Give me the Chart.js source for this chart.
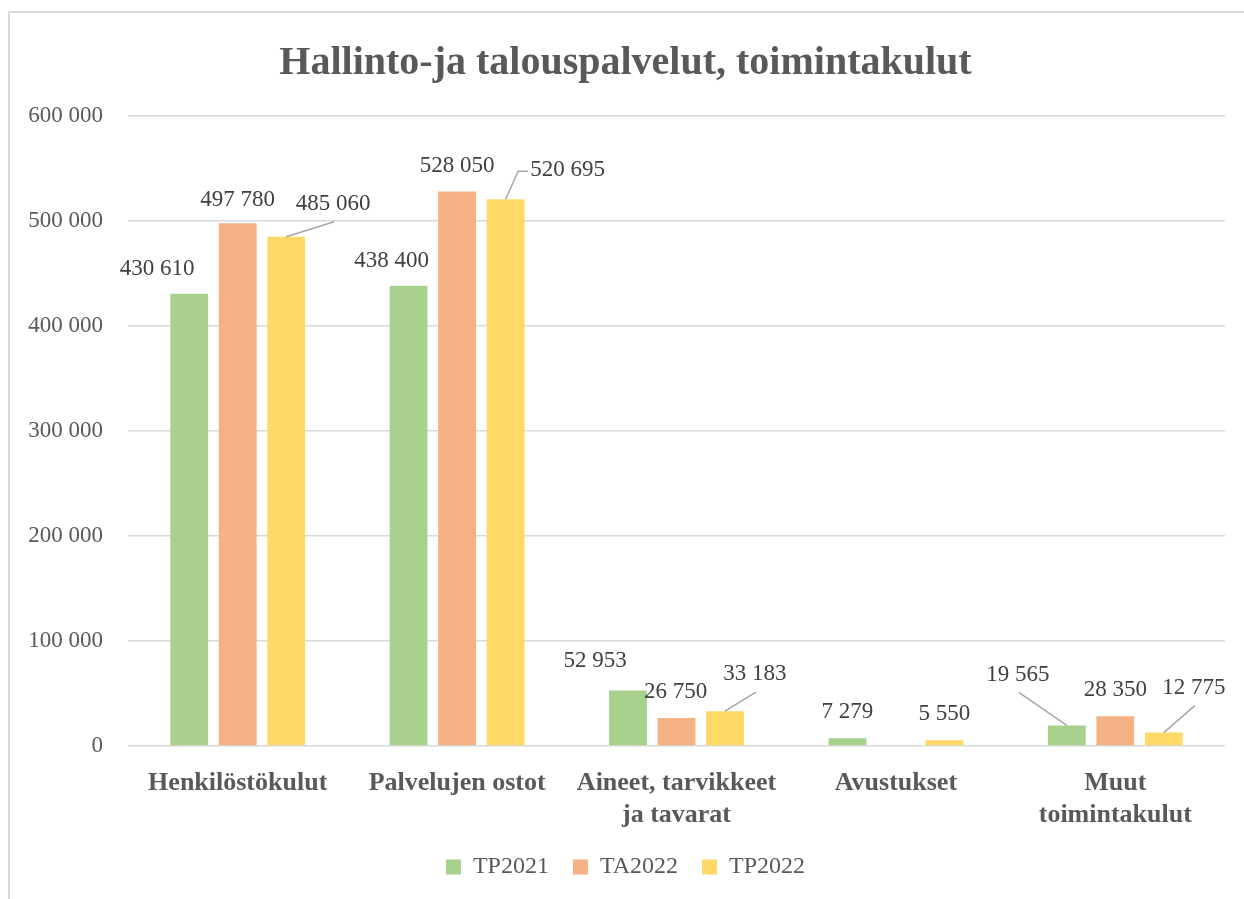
<!DOCTYPE html>
<html>
<head>
<meta charset="utf-8">
<script src="https://cdn.jsdelivr.net/npm/chart.js@4.4.1/dist/chart.umd.min.js"></script>
<style>
  html, body { margin: 0; background: #fff; overflow: hidden; }
  #frame { position: absolute; left: 8px; top: 11px; width: 1300px; height: 1000px;
           border-top: 2px solid #d9d9d9; border-left: 2px solid #d9d9d9; }
  canvas { position: absolute; left: 0; top: 0; }
</style>
</head>
<body>
<div id="frame"></div>
<canvas id="chart" width="1244" height="899"></canvas>
<script>
// -------------------------
// DATA
// -------------------------
const categories = [
  ["Henkilöstökulut"],
  ["Palvelujen ostot"],
  ["Aineet, tarvikkeet", "ja tavarat"],
  ["Avustukset"],
  ["Muut", "toimintakulut"]
];
const seriesNames = ["TP2021", "TA2022", "TP2022"];
const tp2021 = [430610, 438400, 52953, 7279, 19565];
const ta2022 = [497780, 528050, 26750, null, 28350];
const tp2022 = [485060, 520695, 33183, 5550, 12775];
const yTicks = [0, 100000, 200000, 300000, 400000, 500000, 600000];

const colors = ["#A9D18E", "#F4B183", "#FFD966"];
const FONT = "'Liberation Serif', serif";

// label placement relative to bar top: [dx, dy, leader]
const labelOffsets = [
  [[-32, -25], [-17, -25], [-33, -29], [0, -26], [-49, -51, "bottom"]],
  [[0, -23], [0, -26], [-1, -26], null, [0, -26]],
  [[47, -33, "bottom"], [62, -29, "left"], [30, -37, "bottom"], [0, -26], [30, -45, "bottom"]]
];

const fmt = (n) => String(n).replace(/\B(?=(\d{3})+(?!\d))/g, " ");

// -------------------------
// DATA LABELS WITH LEADER LINES
// -------------------------
const valueLabels = {
  id: "valueLabels",
  afterDatasetsDraw(chart) {
    const ctx = chart.ctx;
    ctx.save();
    ctx.font = "23px " + FONT;
    ctx.textAlign = "center";
    ctx.textBaseline = "middle";
    chart.data.datasets.forEach((ds, di) => {
      const meta = chart.getDatasetMeta(di);
      meta.data.forEach((bar, i) => {
        const v = ds.data[i];
        const off = labelOffsets[di][i];
        if (v == null || !off) return;
        const text = fmt(v);
        const lx = bar.x + off[0];
        const ly = bar.y + off[1];
        if (off[2]) {
          ctx.strokeStyle = "#a6a6a6";
          ctx.lineWidth = 1.5;
          ctx.beginPath();
          ctx.moveTo(bar.x, bar.y);
          if (off[2] === "left") {
            const left = lx - ctx.measureText(text).width / 2;
            ctx.lineTo(left - 12, ly + 1);
            ctx.lineTo(left - 2, ly + 1);
          } else {
            ctx.lineTo(lx + 1, ly + 18);
          }
          ctx.stroke();
        }
        ctx.fillStyle = "#404040";
        ctx.fillText(text, lx, ly);
      });
    });
    ctx.restore();
  }
};

const ctx = document.getElementById("chart").getContext("2d");
new Chart(ctx, {
  type: "bar",
  data: {
    labels: categories,
    datasets: [tp2021, ta2022, tp2022].map((d, k) => ({
      label: seriesNames[k],
      data: d,
      backgroundColor: colors[k],
      barPercentage: 0.78,
      categoryPercentage: 0.663
    }))
  },
  options: {
    responsive: false,
    animation: false,
    devicePixelRatio: 1,
    layout: { padding: { left: 26, right: 19, top: 0, bottom: 10 } },
    plugins: {
      title: {
        display: true,
        text: "Hallinto-ja talouspalvelut, toimintakulut",
        color: "#595959",
        font: { family: FONT, size: 40, weight: "bold" },
        padding: { top: 40, bottom: 28 }
      },
      legend: {
        position: "bottom",
        labels: {
          color: "#595959",
          font: { family: FONT, size: 24 },
          boxWidth: 15,
          boxHeight: 15,
          padding: 24
        }
      },
      tooltip: { enabled: false }
    },
    scales: {
      x: {
        grid: { display: false },
        border: { display: false },
        ticks: {
          color: "#595959",
          font: { family: FONT, size: 26, weight: "bold" },
          padding: 14,
          maxRotation: 0
        },
        afterFit(scale) { scale.height = 85; }
      },
      y: {
        min: 0,
        max: 600000,
        border: { display: false },
        grid: { color: "#d9d9d9", lineWidth: 1.5, drawTicks: false },
        afterBuildTicks(scale) { scale.ticks = yTicks.map((v) => ({ value: v })); },
        ticks: {
          color: "#595959",
          font: { family: FONT, size: 23 },
          padding: 25,
          callback: (v) => fmt(v)
        },
        afterFit(scale) { scale.width = 102; }
      }
    }
  },
  plugins: [valueLabels]
});
</script>
</body>
</html>
